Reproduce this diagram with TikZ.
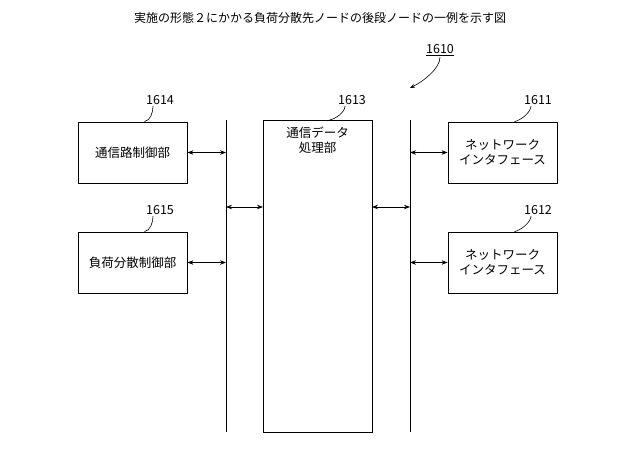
\documentclass[tikz,border=0pt]{standalone}
\usepackage{fontspec}
\setmainfont{Noto Sans CJK JP}
\usetikzlibrary{arrows.meta,positioning}

\begin{document}
\begin{tikzpicture}[x=1pt,y=-1pt,
	block/.style = {draw, thick, minimum width=109pt, minimum height=61pt, align=center, font=\fontsize{12.5}{15}\selectfont},
	bus/.style   = {thick},
	link/.style  = {thick, {Stealth[length=6pt]}-{Stealth[length=6pt]}},
	num/.style   = {font=\fontsize{12.5}{14}\selectfont},
	leader/.style= {line width=0.6pt},
	>=Stealth]
	\useasboundingbox (0,0) rectangle (640,470);

	% title
	\node[font=\fontsize{12}{14}\selectfont] (title) at (320,18) {実施の形態２にかかる負荷分散先ノードの後段ノードの一例を示す図};

	% blocks
	\node[block] (b1614) at (132.5,152.5) {通信路制御部};
	\node[block] (b1615) at (132.5,262.5) {負荷分散制御部};
	\node[block] (b1611) at (502.5,152.5) {ネットワーク\\インタフェース};
	\node[block] (b1612) at (502.5,262.5) {ネットワーク\\インタフェース};
	\draw[thick] (263,120) rectangle (372,432);
	\node[block, draw=none, anchor=north, minimum height=0pt, inner sep=2pt] (b1613) at (317.5,124) {通信データ\\処理部};
	\coordinate (dtop) at (317.5,120);

	% buses
	\coordinate (busL) at (226,120);
	\coordinate (busR) at (410,120);
	\draw[bus] (busL) -- (226,432);
	\draw[bus] (busR) -- (410,432);

	% links
	\draw[link] (b1614.east) -- (226,152.5);
	\draw[link] (b1615.east) -- (226,262.5);
	\draw[link] (410,152.5) -- (b1611.west);
	\draw[link] (410,262.5) -- (b1612.west);
	\draw[link] (226,207) -- (263,207);
	\draw[link] (372,207) -- (410,207);

	% numbers
	\node[num] (n1614) at (160,100) {1614};
	\node[num] (n1615) at (160,210) {1615};
	\node[num] (n1613) at (352,100) {1613};
	\node[num] (n1611) at (538,100) {1611};
	\node[num] (n1612) at (538,210) {1612};
	\foreach \n/\b in {1614/b1614,1615/b1615,1611/b1611,1612/b1612}
	\draw[leader] ([xshift=-7pt,yshift=2pt]n\n.south) .. controls +(0,6) and +(6,-1) .. ([xshift=12pt]\b.north);
	\draw[leader] ([xshift=-7pt,yshift=2pt]n1613.south) .. controls +(0,6) and +(6,-1) .. ([xshift=12pt]dtop);

	% overall number
	\node[num] (n1610) at (440,50) {\underline{1610}};
	\coordinate (p1610) at (410,88);
	\draw[leader, -{Stealth[length=5pt]}] ([yshift=2pt]n1610.south) .. controls +(0,12) and +(12,-6) .. (p1610);
\end{tikzpicture}
\end{document}
